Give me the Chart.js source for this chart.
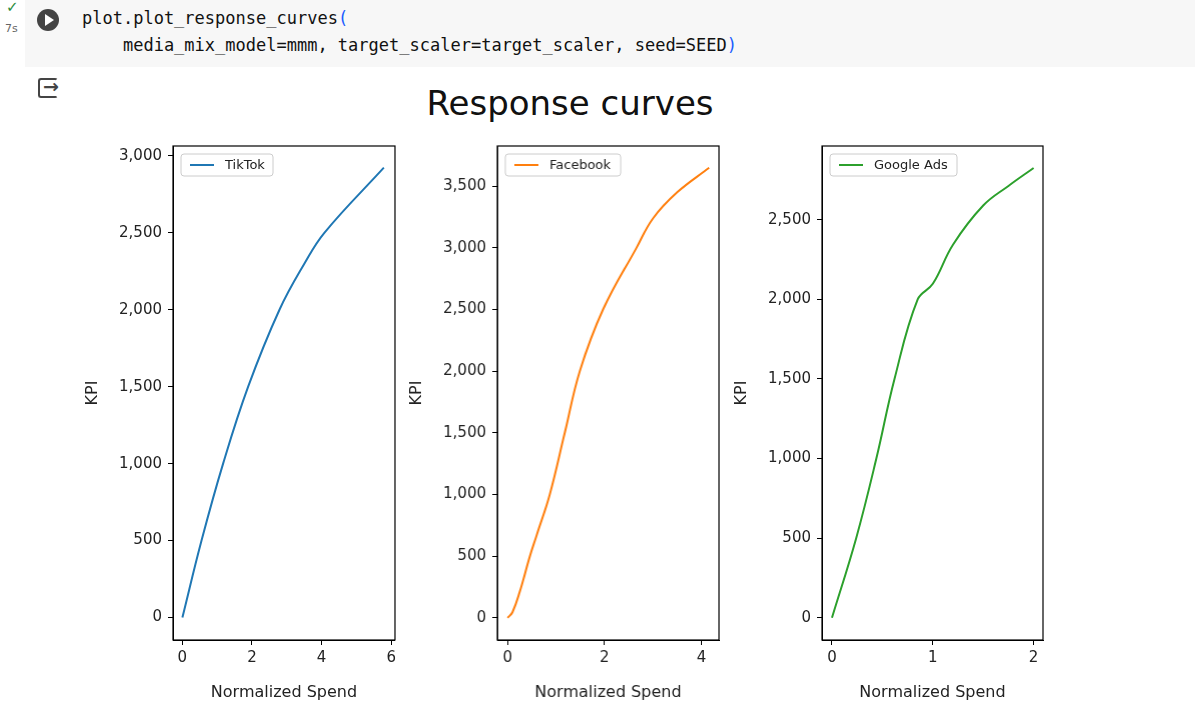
<!DOCTYPE html>
<html><head><meta charset="utf-8">
<script src="https://cdn.jsdelivr.net/npm/chart.js@4"></script>
<style>
body{margin:0;width:1200px;height:708px;background:#fff;position:relative;overflow:hidden;font-family:"DejaVu Sans",sans-serif}
#cell{position:absolute;left:25px;top:0;width:1170px;height:67px;background:#f7f7f7}
.code{position:absolute;font-family:"DejaVu Sans Mono","Liberation Mono",monospace;font-size:17px;color:#111;white-space:pre}
#play{position:absolute;left:37px;top:9px;width:22px;height:22px;border-radius:50%;background:#444}
#play:after{content:"";position:absolute;left:8px;top:5px;border-left:9px solid #fff;border-top:6px solid transparent;border-bottom:6px solid transparent}
#title{position:absolute;left:0;width:1140px;text-align:center;top:83px;font-size:34px;color:#111}
canvas{position:absolute}
</style></head><body>
<div id="cell"></div>
<div style="position:absolute;left:6px;top:-2px;color:#2a8c3a;font-size:15px">✓</div>
<div style="position:absolute;left:5px;top:22px;color:#666;font-size:11px">7s</div>
<div id="play"></div>
<div class="code" style="left:82px;top:8px">plot.plot_response_curves<span style="color:#1a5cff">(</span></div>
<div class="code" style="left:82px;top:35px">    media_mix_model=mmm, target_scaler=target_scaler, seed=SEED<span style="color:#1a5cff">)</span></div>
<div style="position:absolute;left:38px;top:78px;width:20px;height:20px;border:2.5px solid #444;border-radius:3px;box-sizing:border-box;border-right-color:transparent"></div>
<div style="position:absolute;left:43px;top:75px;font-size:19px;color:#444;font-weight:bold">→</div>
<div id="title">Response curves</div>
<canvas id="c1"></canvas><canvas id="c2"></canvas><canvas id="c3"></canvas>
<script>
const tiktokX=[0,0.55,1.17,1.89,2.79,3.5,4.08,5.79];
const tiktokY=[0,500,1000,1500,2000,2297,2500,2923];
const facebookX=[0,0.1,0.25,0.46,0.6,0.87,1.18,1.49,1.97,2.66,3.0,3.5,4.16];
const facebookY=[0,45,210,500,670,1000,1500,2000,2500,3000,3238,3450,3649];
const googleX=[0,0.24,0.44,0.62,0.85,1.0,1.2,1.5,1.75,2.0];
const googleY=[0,500,1000,1500,2000,2098,2344,2590,2713,2826];
const tiktokYTicks=[0,500,1000,1500,2000,2500,3000];
const facebookYTicks=[0,500,1000,1500,2000,2500,3000,3500];
const googleYTicks=[0,500,1000,1500,2000,2500];
const tiktokXTicks=[0,2,4,6];
const facebookXTicks=[0,2,4];
const googleXTicks=[0,1,2];

const panels=[
 {id:'c1',label:'TikTok',color:'#1f77b4',xs:tiktokX,ys:tiktokY,yt:tiktokYTicks,xt:tiktokXTicks,left:172.7,right:396,xmin:-0.27,xmax:6.11,ymin:-146,ymax:3064,lg:92},
 {id:'c2',label:'Facebook',color:'#ff7f0e',xs:facebookX,ys:facebookY,yt:facebookYTicks,xt:facebookXTicks,left:497.3,right:719.3,xmin:-0.213,xmax:4.364,ymin:-180,ymax:3826,lg:115},
 {id:'c3',label:'Google Ads',color:'#2ca02c',xs:googleX,ys:googleY,yt:googleYTicks,xt:googleXTicks,left:822.3,right:1043.3,xmin:-0.099,xmax:2.093,ymin:-140,ymax:2964,lg:127}
];
const YW=90, TOP=131, PADT=5, XH=68;
const frame={id:'frame',afterDraw(ch){const c=ch.ctx,A=ch.chartArea;c.save();c.strokeStyle='#000';c.lineWidth=1.2;c.strokeRect(A.left,A.top,A.right-A.left,A.bottom-A.top);
 const p=ch.options.plugins.frame; const x=A.left+8,y=A.top+8,w=p.w,h=22;
 c.fillStyle='rgba(255,255,255,0.8)';c.strokeStyle='#ccc';c.lineWidth=1;c.beginPath();c.roundRect(x,y,w,h,3);c.fill();c.stroke();
 c.strokeStyle=p.color;c.lineWidth=2;c.beginPath();c.moveTo(x+9,y+h/2);c.lineTo(x+33,y+h/2);c.stroke();
 c.fillStyle='#222';c.font='13px "DejaVu Sans"';c.textBaseline='middle';c.fillText(p.label,x+44,y+h/2+1);c.restore();}};
panels.forEach((p)=>{
 const cv=document.getElementById(p.id);
 const L=p.left-YW, W=p.right-L+4, H=708-TOP;
 cv.style.left=L+'px';cv.style.top=TOP+'px';cv.style.width=W+'px';cv.style.height=H+'px';
 cv.width=W;cv.height=H;
 new Chart(cv,{type:'line',plugins:[frame],
  data:{datasets:[{label:p.label,data:p.xs.map((x,k)=>({x,y:p.ys[k]})),borderColor:p.color,borderWidth:2,pointRadius:0,tension:0.4,fill:false}]},
  options:{responsive:false,animation:false,layout:{padding:{top:PADT,right:4,left:0,bottom:0}},
   plugins:{legend:{display:false},tooltip:{enabled:false},frame:{label:p.label,color:p.color,w:p.lg}},
   scales:{
    x:{type:'linear',min:p.xmin,max:p.xmax,afterFit(s){s.height=XH;},
     afterBuildTicks(s){s.ticks=p.xt.map(v=>({value:v}));},
     ticks:{color:'#222',font:{size:15,family:'DejaVu Sans'},padding:4,maxRotation:0,autoSkip:false},
     grid:{drawOnChartArea:false,drawTicks:true,tickLength:5,color:'#000'},border:{display:true,color:'#000'},
     title:{display:true,text:'Normalized Spend',color:'#222',font:{size:16,family:'DejaVu Sans'},padding:{top:2,bottom:6}}},
    y:{type:'linear',min:p.ymin,max:p.ymax,afterFit(s){s.width=YW;},
     afterBuildTicks(s){s.ticks=p.yt.map(v=>({value:v}));},
     ticks:{color:'#222',font:{size:15,family:'DejaVu Sans'},padding:6,autoSkip:false},
     grid:{drawOnChartArea:false,drawTicks:true,tickLength:5,color:'#000'},border:{display:true,color:'#000'},
     title:{display:true,text:'KPI',color:'#222',font:{size:16,family:'DejaVu Sans'},padding:{top:0,bottom:6}}}
   }}});
});
</script></body></html>
